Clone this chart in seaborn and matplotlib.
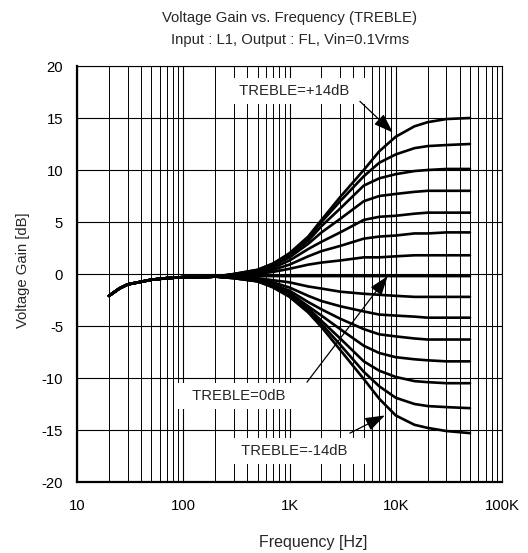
import pandas as pd
import matplotlib
matplotlib.use("Agg")
import matplotlib.pyplot as plt
from matplotlib.ticker import FixedLocator, NullFormatter
import seaborn as sns

# Frequencies [Hz]
freq = [20, 25, 30, 40, 50, 70, 100, 150, 200,
        300, 500, 700, 1000, 1500, 2000, 3000, 5000, 7000, 10000, 15000, 20000, 30000, 50000]

# Shared low-frequency part (20 Hz .. 200 Hz), same for every TREBLE setting
gain_low = [-2.1, -1.4, -1.0, -0.75, -0.55, -0.4, -0.3, -0.3, -0.25]

# 300 Hz .. 50 kHz for each TREBLE setting [dB]
gain_p14 = [0.0, 0.4, 1.0, 2.0, 3.6, 5.2, 7.4, 10.0, 11.8, 13.2, 14.2, 14.6, 14.9, 15.0]
gain_p12 = [0.0, 0.4, 1.0, 1.9, 3.4, 5.0, 7.0, 9.4, 10.7, 11.5, 12.1, 12.3, 12.4, 12.5]
gain_p10 = [-0.05, 0.35, 0.9, 1.8, 3.2, 4.6, 6.3, 8.5, 9.2, 9.6, 9.9, 10.0, 10.1, 10.1]
gain_p8 = [-0.05, 0.3, 0.8, 1.6, 2.9, 4.0, 5.3, 7.0, 7.5, 7.7, 7.9, 8.0, 8.0, 8.0]
gain_p6 = [-0.1, 0.2, 0.6, 1.3, 2.4, 3.1, 4.0, 5.2, 5.5, 5.6, 5.8, 5.9, 5.9, 5.9]
gain_p4 = [-0.1, 0.1, 0.4, 0.9, 1.7, 2.2, 2.7, 3.4, 3.6, 3.7, 3.9, 3.9, 4.0, 4.0]
gain_p2 = [-0.15, 0.0, 0.2, 0.5, 0.9, 1.1, 1.3, 1.6, 1.6, 1.7, 1.8, 1.8, 1.8, 1.8]
gain_0 = [-0.2, -0.2, -0.2, -0.2, -0.2, -0.2, -0.2, -0.2, -0.2, -0.2, -0.2, -0.2, -0.2, -0.2]
gain_m2 = [-0.3, -0.4, -0.6, -0.8, -1.2, -1.4, -1.7, -1.9, -2.0, -2.1, -2.2, -2.2, -2.2, -2.2]
gain_m4 = [-0.3, -0.5, -0.8, -1.3, -2.1, -2.6, -3.1, -3.6, -3.9, -4.0, -4.1, -4.2, -4.2, -4.2]
gain_m6 = [-0.35, -0.6, -1.0, -1.6, -2.7, -3.4, -4.3, -5.3, -5.8, -6.0, -6.2, -6.3, -6.3, -6.3]
gain_m8 = [-0.35, -0.6, -1.1, -1.8, -3.1, -4.0, -5.3, -6.9, -7.6, -8.0, -8.2, -8.3, -8.4, -8.4]
gain_m10 = [-0.4, -0.7, -1.2, -2.0, -3.3, -4.5, -6.2, -8.4, -9.3, -9.9, -10.3, -10.4, -10.5, -10.5]
gain_m12 = [-0.4, -0.7, -1.2, -2.1, -3.5, -4.8, -6.8, -9.4, -10.8, -11.9, -12.5, -12.7, -12.8, -12.9]
gain_m14 = [-0.4, -0.7, -1.3, -2.2, -3.7, -5.1, -7.3, -10.1, -12.0, -13.6, -14.5, -14.8, -15.1, -15.3]

treble_db = [14, 12, 10, 8, 6, 4, 2, 0, -2, -4, -6, -8, -10, -12, -14]
curves = [gain_p14, gain_p12, gain_p10, gain_p8, gain_p6, gain_p4, gain_p2, gain_0,
          gain_m2, gain_m4, gain_m6, gain_m8, gain_m10, gain_m12, gain_m14]

x_ticks = [10, 100, 1000, 10000, 100000]
x_ticklabels = ["10", "100", "1K", "10K", "100K"]
y_ticks = [-20, -15, -10, -5, 0, 5, 10, 15, 20]

rows = []
for t, c in zip(treble_db, curves):
    for f, g in zip(freq, gain_low + c):
        rows.append({"treble": t, "freq": f, "gain": g})
data = pd.DataFrame(rows)

sns.set_theme(style="white")
plt.rcParams["font.family"] = ["Liberation Sans", "DejaVu Sans"]
plt.rcParams["axes.unicode_minus"] = False
fs = 10.7

fig = plt.figure(figsize=(5.28, 5.53), dpi=100)
ax = fig.add_axes([77 / 528, 1 - 482 / 553, 425 / 528, 416 / 553])

sns.lineplot(data=data, x="freq", y="gain", units="treble", estimator=None,
             color="black", linewidth=1.9, ax=ax, zorder=3)

ax.set_xscale("log")
ax.set_xlim(10, 100000)
ax.set_ylim(-20, 20)
ax.set_xticks(x_ticks)
ax.set_xticklabels(x_ticklabels)
ax.xaxis.set_minor_locator(FixedLocator([m * 10 ** d for d in range(1, 5) for m in range(2, 10)]))
ax.xaxis.set_minor_formatter(NullFormatter())
ax.set_yticks(y_ticks)
ax.tick_params(axis="both", which="both", length=0, labelsize=fs, colors="black")
ax.tick_params(axis="x", pad=12)
ax.tick_params(axis="y", pad=10)
ax.grid(True, which="major", axis="both", color="black", linewidth=0.8)
ax.grid(True, which="minor", axis="x", color="black", linewidth=0.7)
ax.set_xlabel("")
ax.set_ylabel("")

for side in ["left", "bottom"]:
    ax.spines[side].set_linewidth(1.6)
    ax.spines[side].set_color("black")
for side in ["top", "right"]:
    ax.spines[side].set_linewidth(0.8)
    ax.spines[side].set_color("black")

fig.text(290 / 528, 1 - 18 / 553, "Voltage Gain vs. Frequency (TREBLE)", ha="center", va="center", fontsize=fs)
fig.text(290 / 528, 1 - 40 / 553, "Input : L1, Output : FL, Vin=0.1Vrms", ha="center", va="center", fontsize=fs)
fig.text(313 / 528, 1 - 543 / 553, "Frequency [Hz]", ha="center", va="center", fontsize=11.5)
fig.text(23 / 528, 1 - 270 / 553, "Voltage Gain [dB]", ha="center", va="center", rotation=90, fontsize=fs)

# labels with white boxes
box = dict(boxstyle="square,pad=0.4", fc="white", ec="none")
ax.text(1100, 17.6, "   TREBLE=+14dB   ", ha="center", va="center", fontsize=fs, bbox=box, zorder=5)
ax.text(335, -11.7, "   TREBLE=0dB   ", ha="center", va="center", fontsize=fs, bbox=box, zorder=5)
ax.text(1100, -17.0, "   TREBLE=-14dB   ", ha="center", va="center", fontsize=fs, bbox=box, zorder=5)

# arrows pointing at the curves
arrow = dict(arrowstyle="-|>,head_length=1.0,head_width=0.35", color="black", lw=0.9, shrinkA=0, shrinkB=0)
ax.annotate("", xy=(9400, 13.6), xytext=(4600, 16.6), arrowprops=arrow, zorder=6)
ax.annotate("", xy=(8400, -0.2), xytext=(1460, -10.4), arrowprops=arrow, zorder=6)
ax.annotate("", xy=(7900, -13.6), xytext=(3700, -15.3), arrowprops=arrow, zorder=6)

fig.savefig("out.png", dpi=100)
plt.close(fig)
